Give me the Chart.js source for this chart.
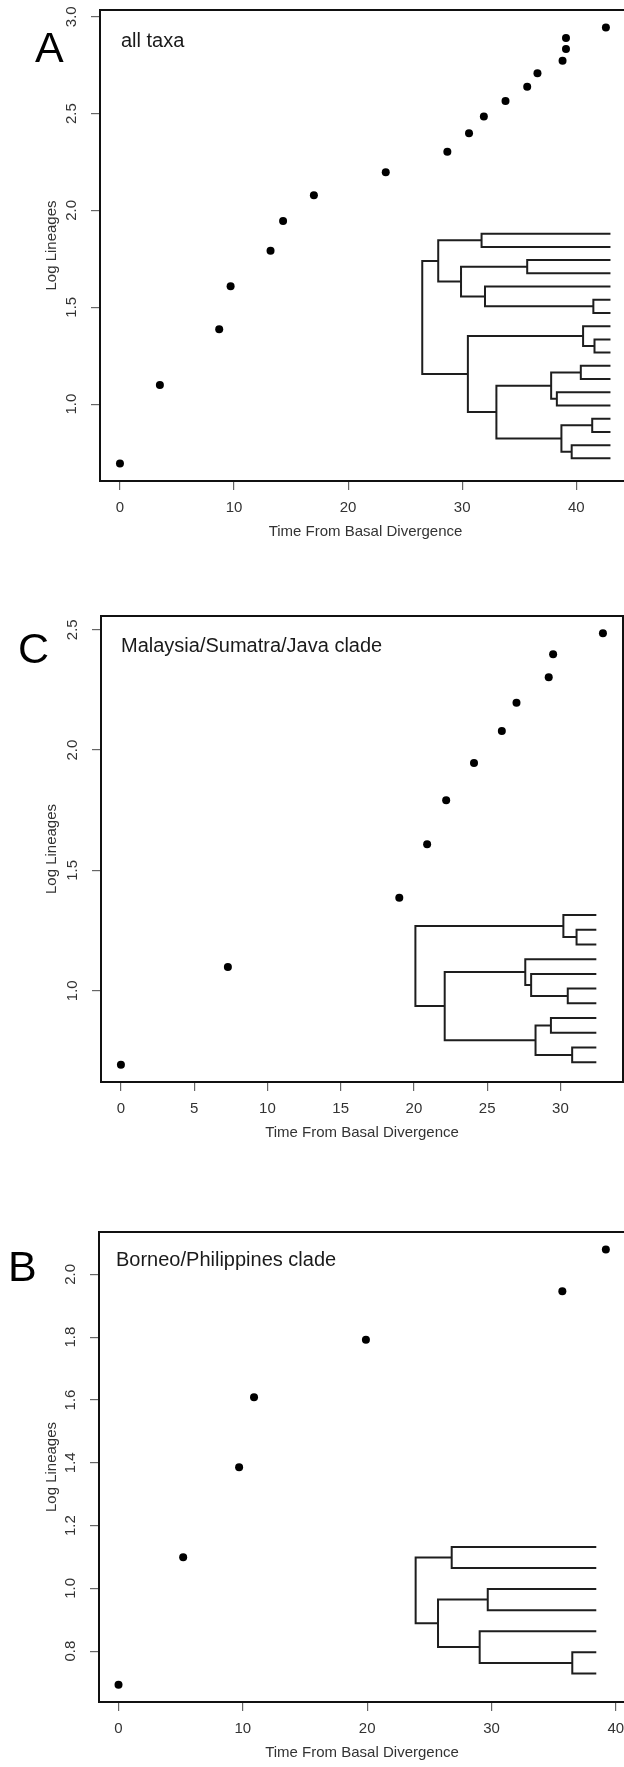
<!DOCTYPE html>
<html lang="en">
<head>
<meta charset="UTF-8">
<title>Lineage-through-time plots</title>
<script src="https://cdn.jsdelivr.net/npm/chart.js"></script>
<style>
    html, body { margin: 0; padding: 0; overflow: hidden; background: #fff; }
    body { width: 624px; height: 1767px; position: relative; font-family: "Liberation Sans", Arial, sans-serif; }
    canvas { position: absolute; left: 0; }
    .letter { position: absolute; font-size: 43px; line-height: 43px; color: #000; }
    .clade { position: absolute; font-size: 20px; line-height: 20px; color: #1a1a1a; white-space: nowrap; }
</style>
</head>
<body>
    <canvas id="chartA" width="660" height="560" style="top:0px"></canvas>
    <canvas id="chartC" width="660" height="601" style="top:560px"></canvas>
    <canvas id="chartB" width="660" height="621" style="top:1160px"></canvas>

    <div class="letter" style="left:35px; top:26px">A</div>
    <div class="clade" style="left:121px; top:30px">all taxa</div>
    <div class="letter" style="left:18px; top:627px">C</div>
    <div class="clade" style="left:121px; top:635px">Malaysia/Sumatra/Java clade</div>
    <div class="letter" style="left:8px; top:1245px">B</div>
    <div class="clade" style="left:116px; top:1249px">Borneo/Philippines clade</div>

<script>
    // ------------------------------------------------
    // Lineages through time
    // ------------------------------------------------
    // A - all taxa
    const timeA = [0, 3.5, 8.7, 9.7, 13.2, 14.3, 17.0, 23.3, 28.7, 30.6, 31.9, 33.8, 35.7, 36.6, 38.8, 39.1, 39.1, 42.6];
    const logLinA = [0.693, 1.099, 1.386, 1.609, 1.792, 1.946, 2.079, 2.197, 2.303, 2.398, 2.485, 2.565, 2.639, 2.708, 2.773, 2.833, 2.890, 2.944];
    const xTicksA = [0, 10, 20, 30, 40];
    const yTicksA = [1.0, 1.5, 2.0, 2.5, 3.0];

    // C - Malaysia/Sumatra/Java clade
    const timeC = [0, 7.3, 19.0, 20.9, 22.2, 24.1, 26.0, 27.0, 29.2, 29.5, 32.9];
    const logLinC = [0.693, 1.099, 1.386, 1.609, 1.792, 1.946, 2.079, 2.197, 2.303, 2.398, 2.485];
    const xTicksC = [0, 5, 10, 15, 20, 25, 30];
    const yTicksC = [1.0, 1.5, 2.0, 2.5];

    // B - Borneo/Philippines clade
    const timeB = [0, 5.2, 9.7, 10.9, 19.9, 35.7, 39.2];
    const logLinB = [0.693, 1.099, 1.386, 1.609, 1.792, 1.946, 2.079];
    const xTicksB = [0, 10, 20, 30, 40];
    const yTicksB = [0.8, 1.0, 1.2, 1.4, 1.6, 1.8, 2.0];

    // inset trees: [node time, upper child, lower child], null = tip
    const treeA = [26.5,
        [27.9, [31.7, null, null], [29.9, [35.7, null, null], [32.0, null, [41.5, null, null]]]],
        [30.5, [40.6, null, [41.6, null, null]],
               [33.0, [37.8, [40.4, null, null], [38.3, null, null]],
                      [38.7, [41.4, null, null], [39.6, null, null]]]]];
    const treeC = [20.1,
        [30.2, null, [31.1, null, null]],
        [22.1, [27.6, null, [28.0, null, [30.5, null, null]]],
               [28.3, [29.35, null, null], [30.8, null, null]]]];
    const treeB = [23.9,
        [26.8, null, null],
        [25.7, [29.7, null, null], [29.05, null, [36.5, null, null]]]];

    // tip time and tip span (in axis units) of each inset tree
    const tipsA = [43.0, 1.880, 0.720];
    const tipsC = [32.45, 1.315, 0.703];
    const tipsB = [38.43, 1.132, 0.729];

    // turns a nested tree into bracket polylines separated by gaps
    function treeLines(tree, tips) {
        const [tipTime, top, bottom] = tips;
        const count = n => n === null ? 1 : count(n[1]) + count(n[2]);
        const step = (top - bottom) / (count(tree) - 1);
        const pts = [];
        let k = 0;
        function walk(n) {
            if (n === null) return { x: tipTime, y: top - step * k++ };
            const a = walk(n[1]), b = walk(n[2]);
            pts.push({ x: a.x, y: a.y }, { x: n[0], y: a.y }, { x: n[0], y: b.y }, { x: b.x, y: b.y }, { x: null, y: null });
            return { x: n[0], y: (a.y + b.y) / 2 };
        }
        walk(tree);
        return pts;
    }

    const frame = {
        id: 'frame',
        afterDatasetsDraw(chart) {
            const { ctx, chartArea: a } = chart;
            ctx.save();
            ctx.strokeStyle = '#111';
            ctx.lineWidth = 2;
            ctx.strokeRect(a.left, a.top, a.right - a.left, a.bottom - a.top);
            ctx.restore();
        }
    };

    Chart.defaults.font.family = '"Liberation Sans", Arial, sans-serif';

    function createPanel(id, p) {
        const grid = { drawOnChartArea: false, drawTicks: true, tickLength: 9, color: '#666', lineWidth: 1.2 };
        return new Chart(document.getElementById(id), {
            type: 'scatter',
            data: {
                datasets: [
                    {
                        data: treeLines(p.tree, p.tips),
                        showLine: true, spanGaps: false, pointRadius: 0,
                        borderColor: '#1e1e1e', borderWidth: 2
                    },
                    {
                        data: p.time.map((t, i) => ({ x: t, y: p.logLin[i] })),
                        pointRadius: 4, pointBorderWidth: 0, pointBackgroundColor: '#000'
                    }
                ]
            },
            options: {
                responsive: false,
                animation: false,
                layout: { padding: { left: 0, top: p.padTop, right: p.padRight, bottom: 0 } },
                plugins: { legend: { display: false }, tooltip: { enabled: false } },
                scales: {
                    x: {
                        type: 'linear', min: p.xMin, max: p.xMax,
                        afterBuildTicks: s => { s.ticks = p.xTicks.map(v => ({ value: v })); },
                        afterFit: s => { s.height = 79; s.paddingLeft = 0; s.paddingRight = 0; },
                        grid: grid,
                        border: { display: false },
                        ticks: { autoSkip: false, maxRotation: 0, padding: 9, color: '#333', font: { size: 15 }, callback: v => String(v) },
                        title: { display: true, text: 'Time From Basal Divergence', color: '#333', font: { size: 15 }, padding: { top: 0, bottom: 19 } }
                    },
                    y: {
                        type: 'linear', min: p.yMin, max: p.yMax,
                        afterBuildTicks: s => { s.ticks = p.yTicks.map(v => ({ value: v })); },
                        afterFit: s => { s.width = p.axisW; s.paddingTop = 0; s.paddingBottom = 0; },
                        grid: grid,
                        border: { display: false },
                        ticks: { autoSkip: false, minRotation: 90, maxRotation: 90, crossAlign: 'center', padding: 8.5, color: '#333', font: { size: 15 }, callback: v => v.toFixed(1) },
                        title: { display: true, text: 'Log Lineages', color: '#333', font: { size: 15 }, padding: { top: 43, bottom: 0 } }
                    }
                }
            },
            plugins: [frame]
        });
    }

    createPanel('chartA', {
        time: timeA, logLin: logLinA, tree: treeA, tips: tipsA, xTicks: xTicksA, yTicks: yTicksA,
        xMin: -1.75, xMax: 44.8, yMin: 0.603, yMax: 3.035, padTop: 10, padRight: 29, axisW: 100
    });
    createPanel('chartC', {
        time: timeC, logLin: logLinC, tree: treeC, tips: tipsC, xTicks: xTicksC, yTicks: yTicksC,
        xMin: -1.36, xMax: 34.27, yMin: 0.621, yMax: 2.557, padTop: 56, padRight: 37, axisW: 101
    });
    createPanel('chartB', {
        time: timeB, logLin: logLinB, tree: treeB, tips: tipsB, xTicks: xTicksB, yTicks: yTicksB,
        xMin: -1.57, xMax: 40.74, yMin: 0.638, yMax: 2.135, padTop: 72, padRight: 35, axisW: 99
    });
</script>
</body>
</html>
